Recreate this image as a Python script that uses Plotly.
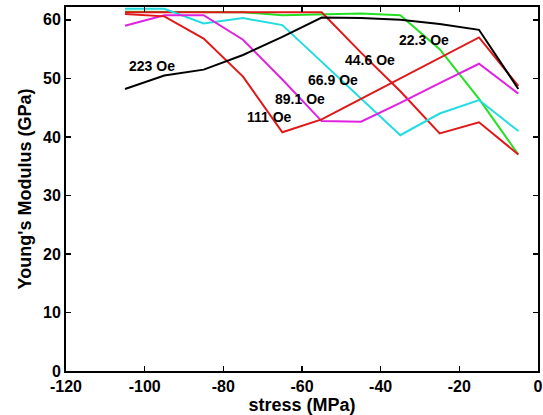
import plotly.graph_objects as go

stress = [-105, -95, -85, -75, -65, -55, -45, -35, -25, -15, -5]

E_22_3 = [61.4, 61.4, 61.4, 61.3, 60.8, 61.0, 61.1, 60.8, 55.0, 46.5, 37.0]
E_44_6 = [61.3, 61.3, 61.4, 61.4, 61.4, 61.3, 54.4, 47.8, 40.6, 42.5, 37.0]
E_66_9 = [61.9, 61.9, 59.4, 60.3, 59.1, 52.8, 46.6, 40.3, 44.0, 46.3, 41.0]
E_89_1 = [59.0, 60.8, 60.8, 56.6, 49.8, 42.7, 42.6, 45.8, 49.2, 52.5, 47.4]
E_111 = [61.0, 60.6, 56.8, 50.3, 40.8, 43.0, 46.5, 50.0, 53.5, 57.0, 48.7]
E_223 = [48.2, 50.5, 51.5, 54.0, 57.1, 60.4, 60.3, 60.0, 59.3, 58.3, 48.2]

series_names = ["22.3 Oe", "44.6 Oe", "66.9 Oe", "89.1 Oe", "111 Oe", "223 Oe"]
series_values = [E_22_3, E_44_6, E_66_9, E_89_1, E_111, E_223]
series_colors = ["#22e022", "#e01818", "#22dde0", "#e022e0", "#e01818", "#000000"]

label_x = [-28.9, -42.6, -52.2, -60.4, -68.2, -98.2]
label_y = [56.5, 53.1, 49.7, 46.4, 43.4, 52.1]

x_ticks = [-120, -100, -80, -60, -40, -20, 0]
y_ticks = [0, 10, 20, 30, 40, 50, 60]

fig = go.Figure()
for name, vals, col in zip(series_names, series_values, series_colors):
    fig.add_trace(go.Scatter(x=stress, y=vals, mode="lines", name=name,
                             line=dict(color=col, width=2), showlegend=False))

for name, lx, ly in zip(series_names, label_x, label_y):
    fig.add_annotation(x=lx, y=ly, text="<b>%s</b>" % name, showarrow=False,
                       font=dict(family="Liberation Sans, Arial", size=14, color="black"),
                       xanchor="center", yanchor="middle")

axis_common = dict(showline=True, linecolor="black", linewidth=2, mirror="ticks",
                   ticks="inside", ticklen=5, tickwidth=1.5, tickcolor="black",
                   showgrid=False, zeroline=False, ticklabeloverflow="allow",
                   tickfont=dict(family="Liberation Sans, Arial", size=16, color="black", weight="bold"))

fig.update_xaxes(range=[-120, 0], tickvals=x_ticks, ticktext=[str(v) for v in x_ticks],
                 title=dict(text="stress (MPa)", standoff=0,
                            font=dict(family="Liberation Sans, Arial", size=18, color="black", weight="bold")),
                 **axis_common)
fig.update_yaxes(range=[0, 62.2], tickvals=y_ticks, ticktext=[str(v) for v in y_ticks],
                 title=dict(text="Young's Modulus (GPa)", standoff=7,
                            font=dict(family="Liberation Sans, Arial", size=18, color="black", weight="bold")),
                 **axis_common)

fig.update_layout(width=543, height=415, margin=dict(l=66, r=5, t=7, b=44, autoexpand=False),
                  plot_bgcolor="white", paper_bgcolor="white", hovermode=False)

fig.write_html("out.html", config={"displayModeBar": False, "staticPlot": True},
               post_script="document.body.style.margin='0';document.body.style.overflow='hidden';")
